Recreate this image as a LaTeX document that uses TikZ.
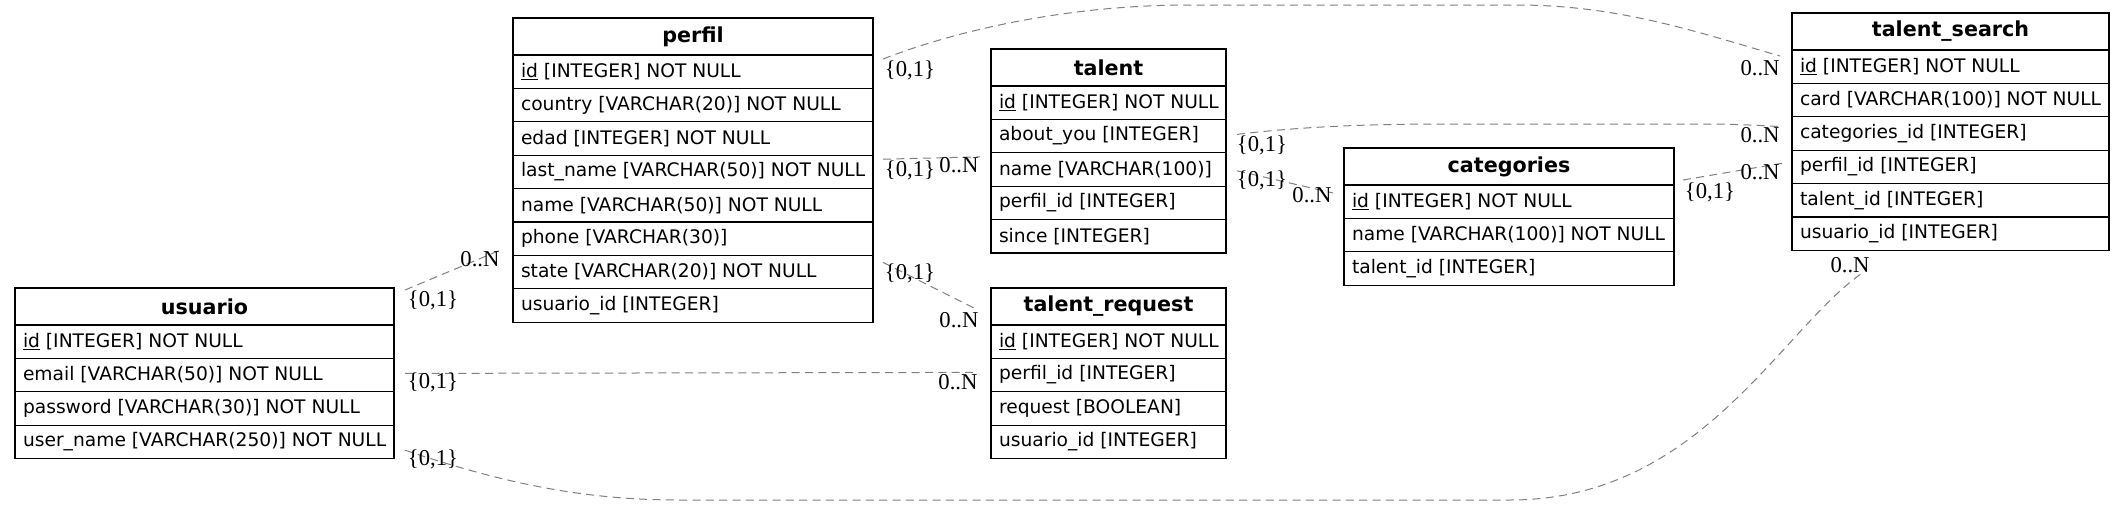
\documentclass[tikz,border=0pt]{standalone}
\usepackage{fontspec}
\setmainfont{DejaVu Sans}
\newfontfamily\cardfont{Liberation Serif}
\usetikzlibrary{positioning}
\tikzset{
  tblhead/.style={draw, anchor=north west, line width=0.9pt, inner sep=0pt, outer sep=0pt,
    minimum height=27.75pt, font=\fontsize{15.5}{18}\selectfont\bfseries},
  tblrow/.style={draw, anchor=north, line width=0.9pt, inner xsep=6pt, inner ysep=0pt, outer sep=0pt,
    minimum height=25.05pt, font=\fontsize{14}{16}\selectfont},
  rel/.style={draw=gray, line width=0.75pt, dash pattern=on 6pt off 4pt},
  card/.style={inner sep=0pt, font=\cardfont\fontsize{17}{19}\selectfont}
}
\newcommand{\ertable}[6]{%
  \pgfmathsetmacro\tblw{#4*0.75}
  \pgfmathsetmacro\txtw{#4*0.75-12}
  \node[tblhead, minimum width=\tblw pt] (#1-0) at (#2,#3) {#5};
  \foreach \f [count=\i] in {#6} {
    \pgfmathtruncatemacro\j{\i-1}
    \node[tblrow, below=0pt of #1-\j] (#1-\i) {\makebox[\txtw pt][l]{\f}};
  }
}
\begin{document}
\begin{tikzpicture}[x=0.75pt, y=-0.75pt]
  \useasboundingbox[fill=white] (0,0) rectangle (2125,507);
  \ertable{usuario}{15}{288}{379}{usuario}{\underline{id} [INTEGER] NOT NULL, email [VARCHAR(50)] NOT NULL,
    password [VARCHAR(30)] NOT NULL, user\_name [VARCHAR(250)] NOT NULL}
  \ertable{perfil}{513}{18}{360}{perfil}{\underline{id} [INTEGER] NOT NULL, country [VARCHAR(20)] NOT NULL,
    edad [INTEGER] NOT NULL, last\_name [VARCHAR(50)] NOT NULL, name [VARCHAR(50)] NOT NULL,
    phone [VARCHAR(30)], state [VARCHAR(20)] NOT NULL, usuario\_id [INTEGER]}
  \ertable{talent}{991}{49}{235}{talent}{\underline{id} [INTEGER] NOT NULL, about\_you [INTEGER],
    name [VARCHAR(100)], perfil\_id [INTEGER], since [INTEGER]}
  \ertable{request}{991}{288}{235}{talent\_request}{\underline{id} [INTEGER] NOT NULL, perfil\_id [INTEGER],
    request [BOOLEAN], usuario\_id [INTEGER]}
  \ertable{categories}{1344}{148}{330}{categories}{\underline{id} [INTEGER] NOT NULL,
    name [VARCHAR(100)] NOT NULL, talent\_id [INTEGER]}
  \ertable{search}{1792}{13}{317}{talent\_search}{\underline{id} [INTEGER] NOT NULL, card [VARCHAR(100)] NOT NULL,
    categories\_id [INTEGER], perfil\_id [INTEGER], talent\_id [INTEGER], usuario\_id [INTEGER]}

  \draw[rel] ([shift={(11,2)}]usuario-0.north east) -- ([shift={(-11,-6)}]perfil-7.north west);
  \draw[rel] ([shift={(10,4)}]perfil-1.north east) .. controls (950,33) and (1060,5) .. (1190,5)
    -- (1517,5) .. controls (1620,5) and (1700,33) .. ([shift={(-12,6)}]search-1.north west);
  \draw[rel] ([shift={(10,4)}]perfil-4.north east) -- ([shift={(-11,4)}]talent-3.north west);
  \draw[rel] ([shift={(10,7)}]perfil-7.north east) -- ([shift={(-13,22)}]request-0.north west);
  \draw[rel] ([shift={(11,15)}]usuario-2.north east) -- ([shift={(-14,14)}]request-2.north west);
  \draw[rel] ([shift={(11,25)}]usuario-4.north east) .. controls (500,482) and (580,500) .. (680,500)
    -- (1510,500) .. controls (1700,500) and (1780,330) .. ([shift={(71,22)}]search-6.south west);
  \draw[rel] ([shift={(11,15)}]talent-2.north east) .. controls (1290,128) and (1350,124) .. (1450,124)
    -- (1700,124) .. controls (1740,124) and (1770,126) .. ([shift={(-10,10)}]search-3.north west);
  \draw[rel] ([shift={(11,18)}]talent-3.north east) -- ([shift={(-11,8)}]categories-1.north west);
  \draw[rel] ([shift={(9,-5)}]categories-1.north east) -- ([shift={(-10,13)}]search-4.north west);

  \node[card] (c1a) at (433,300) {\{0,1\}};
  \node[card] (c1b) at (480,259) {0..N};
  \node[card] (c2a) at (910,70) {\{0,1\}};
  \node[card] (c2b) at (1760,68) {0..N};
  \node[card] (c3a) at (910,170) {\{0,1\}};
  \node[card] (c3b) at (959,165) {0..N};
  \node[card] (c4a) at (910,273) {\{0,1\}};
  \node[card] (c4b) at (959,320) {0..N};
  \node[card] (c5a) at (433,382) {\{0,1\}};
  \node[card] (c5b) at (958,382) {0..N};
  \node[card] (c6a) at (433,459) {\{0,1\}};
  \node[card] (c6b) at (1850,265) {0..N};
  \node[card] (c7a) at (1262,145) {\{0,1\}};
  \node[card] (c7b) at (1760,135) {0..N};
  \node[card] (c8a) at (1262,180) {\{0,1\}};
  \node[card] (c8b) at (1312,195) {0..N};
  \node[card] (c9a) at (1710,192) {\{0,1\}};
  \node[card] (c9b) at (1760,172) {0..N};
\end{tikzpicture}
\end{document}
